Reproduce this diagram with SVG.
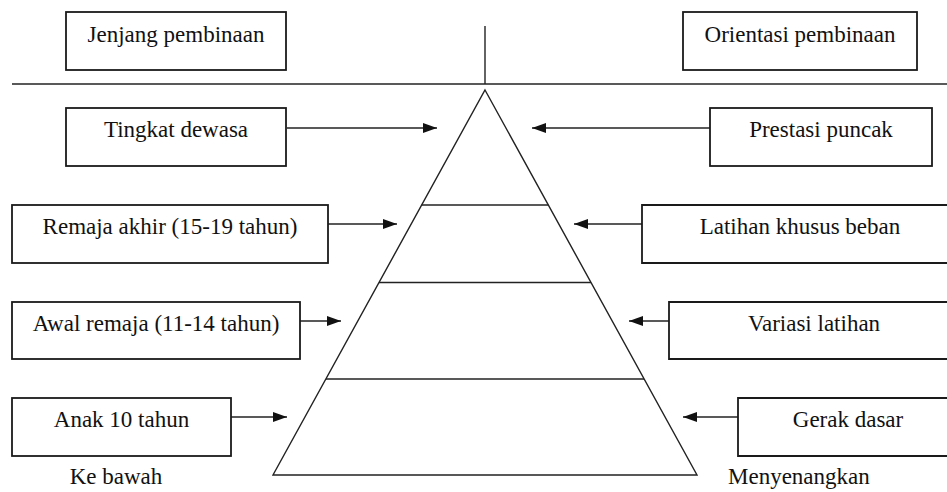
<svg xmlns="http://www.w3.org/2000/svg" width="947" height="492" viewBox="0 0 947 492">
<style>
.box{fill:#fff;stroke:#1a1a1a;stroke-width:1.8}
.ln{fill:none;stroke:#222;stroke-width:1.4}
.ar{fill:none;stroke:#222;stroke-width:1.6;marker-end:url(#ah)}
text{font-family:'Liberation Serif','Times New Roman',serif;font-size:23px;fill:#111}
.c{text-anchor:middle}
</style>
<defs>
<marker id="ah" viewBox="0 0 14 10" refX="14" refY="5" markerWidth="14" markerHeight="10" markerUnits="userSpaceOnUse" orient="auto">
<path d="M0,0 L14,5 L0,10 Z" fill="#111"/>
</marker>
</defs>
<rect width="947" height="492" fill="#fff"/>
<g id="pyramid">
<line class="ln" x1="12" y1="84" x2="947" y2="84"/>
<line class="ln" x1="485" y1="26" x2="485" y2="84" stroke-width="1.8"/>
<path class="ln" d="M485,90 L697,475 L273,475 Z"/>
<line class="ln" x1="421.6" y1="205" x2="548.4" y2="205"/>
<line class="ln" x1="379" y1="282.5" x2="591" y2="282.5"/>
<line class="ln" x1="326" y1="379" x2="644" y2="379"/>
</g>
<g id="connectors">
<line class="ar" x1="287" y1="128" x2="437" y2="128"/>
<line class="ar" x1="328" y1="224" x2="397" y2="224"/>
<line class="ar" x1="300" y1="321" x2="341" y2="321"/>
<line class="ar" x1="231" y1="417" x2="287" y2="417"/>
<line class="ar" x1="710" y1="128" x2="532" y2="128"/>
<line class="ar" x1="642" y1="224" x2="574" y2="224"/>
<line class="ar" x1="669" y1="321" x2="629" y2="321"/>
<line class="ar" x1="738" y1="417" x2="683" y2="417"/>
</g>
<g id="jenjang"><rect class="box" x="66" y="12" width="220" height="58"/><text class="c" x="176" y="42">Jenjang pembinaan</text></g>
<g id="orientasi"><rect class="box" x="683" y="12" width="234" height="58"/><text class="c" x="800" y="42">Orientasi pembinaan</text></g>
<g id="tingkat"><rect class="box" x="66" y="108" width="220" height="58"/><text class="c" x="176" y="137">Tingkat dewasa</text></g>
<g id="prestasi"><rect class="box" x="710" y="108" width="222" height="58"/><text class="c" x="821" y="137">Prestasi puncak</text></g>
<g id="remaja"><rect class="box" x="12" y="205" width="316" height="58"/><text class="c" x="170" y="234">Remaja akhir (15-19 tahun)</text></g>
<g id="latihan"><path class="box" d="M948,205 H642 V263 H948"/><text class="c" x="800" y="234">Latihan khusus beban</text></g>
<g id="awal"><rect class="box" x="12" y="302" width="288" height="57"/><text class="c" x="156" y="331">Awal remaja (11-14 tahun)</text></g>
<g id="variasi"><path class="box" d="M948,302 H669 V359 H948"/><text class="c" x="814" y="331">Variasi latihan</text></g>
<g id="anak"><rect class="box" x="12" y="398" width="219" height="58"/><text class="c" x="121.5" y="427">Anak 10 tahun</text></g>
<g id="gerak"><path class="box" d="M948,398 H738 V456 H948"/><text class="c" x="848" y="427">Gerak dasar</text></g>
<g id="kebawah"><text class="c" x="116" y="484">Ke bawah</text></g>
<g id="menyenangkan"><text x="728" y="484">Menyenangkan</text></g>
</svg>
